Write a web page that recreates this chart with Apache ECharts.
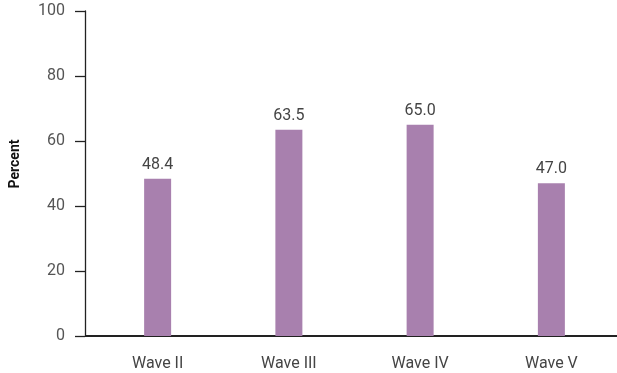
<!DOCTYPE html>
<html>
<head>
<meta charset="utf-8">
<script src="https://cdn.jsdelivr.net/npm/echarts@6/dist/echarts.min.js"></script>
<style>
  html, body { margin: 0; padding: 0; background: #fff; }
  #chart { width: 617px; height: 373px; }
</style>
</head>
<body>
<div id="chart"></div>
<script>
// Share of respondents by survey wave
var categories = ['Wave II', 'Wave III', 'Wave IV', 'Wave V'];
var percentValues = [48.4, 63.5, 65.0, 47.0];
var yTicks = { min: 0, max: 100, interval: 20 };
var yAxisTitle = 'Percent';

var FONT = '"Liberation Sans Narrow", "Roboto", sans-serif';
var chart = echarts.init(document.getElementById('chart'), null, { renderer: 'canvas' });

function titleGraphic() {
  return {
    type: 'text',
    x: 15,
    y: 164,
    rotation: Math.PI / 2,
    style: {
      text: yAxisTitle, fontFamily: FONT, fontSize: 14, fontWeight: 'bold', fill: '#111',
      align: 'center', verticalAlign: 'middle'
    }
  };
}

chart.setOption({
  animation: false,
  backgroundColor: '#ffffff',
  grid: { left: 92, right: -1, top: 11, bottom: 37, containLabel: false },
  xAxis: {
    type: 'category',
    data: categories,
    axisLine: { show: true, lineStyle: { color: '#222', width: 2 } },
    axisTick: { show: false },
    axisLabel: { color: '#444', fontFamily: FONT, fontSize: 16, margin: 20 }
  },
  yAxis: {
    type: 'value',
    min: yTicks.min,
    max: yTicks.max,
    interval: yTicks.interval,
    offset: 7,
    axisLine: { show: true, lineStyle: { color: '#222', width: 1.3 } },
    axisTick: { show: true, length: 10, lineStyle: { color: '#222', width: 1.3 } },
    axisLabel: { color: '#555', fontFamily: FONT, fontSize: 16, margin: 20 },
    splitLine: { show: false }
  },
  graphic: [titleGraphic()],
  series: [
    {
      type: 'bar',
      data: percentValues,
      barWidth: 27,
      itemStyle: { color: '#a880ae' },
      label: {
        show: true,
        position: 'top',
        distance: 6,
        color: '#444',
        fontFamily: FONT,
        fontSize: 16,
        formatter: function (p) { return p.value.toFixed(1); }
      }
    }
  ]
});

// extend the baseline left to meet the value axis
var base = chart.convertToPixel({ gridIndex: 0 }, [0, 0]);
chart.setOption({
  graphic: [
    titleGraphic(),
    {
      type: 'line',
      shape: { x1: 85, y1: base[1], x2: 93, y2: base[1] },
      style: { stroke: '#222', lineWidth: 2 }
    }
  ]
});
</script>
</body>
</html>
